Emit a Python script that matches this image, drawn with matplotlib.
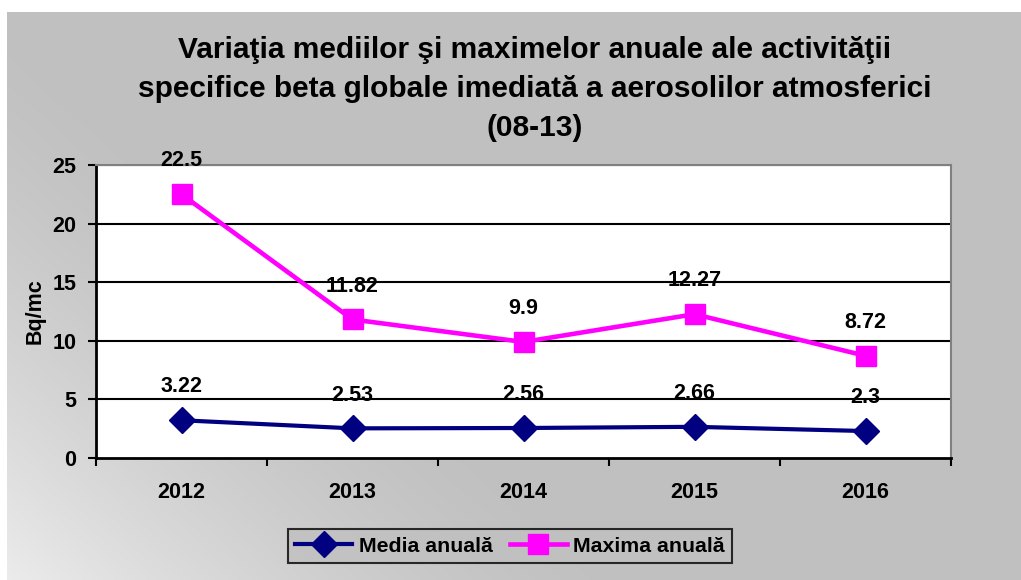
import numpy as np
import matplotlib
matplotlib.use('Agg')
import matplotlib.pyplot as plt

plt.rcParams['font.family'] = ['Liberation Sans', 'DejaVu Sans']

years = ['2012', '2013', '2014', '2015', '2016']
media = [3.22, 2.53, 2.56, 2.66, 2.3]
maxima = [22.5, 11.82, 9.9, 12.27, 8.72]
media_labels = ['3.22', '2.53', '2.56', '2.66', '2.3']
maxima_labels = ['22.5', '11.82', '9.9', '12.27', '8.72']

W, H = 1021, 580
fig = plt.figure(figsize=(W / 100, H / 100), dpi=100)

# fundal cu gradient (stanga-jos mai deschis)
bg = fig.add_axes([7 / W, 0, 1 - 7 / W, 1 - 12 / H])
bg.set_axis_off()
yy, xx = np.mgrid[0:1:200j, 0:1:400j]
d = np.clip(1 - (xx * 1.6 + (1 - yy) * 1.0), 0, 1)  # yy=0 sus
g = 0.753 + 0.17 * d ** 1.5
img = np.dstack([g, g, g])
bg.imshow(img, aspect='auto', extent=[0, 1, 0, 1], origin='upper')

ax = fig.add_axes([96 / W, 1 - 458 / H, (951 - 96) / W, (458 - 165) / H])
ax.set_facecolor('white')
x = np.arange(len(years))

for v in range(5, 26, 5):
    ax.axhline(v, color='black', lw=1.5, zorder=1)

ax.plot(x, media, color='#000080', lw=3, marker='D', markersize=13,
        label='Media anuală', zorder=3)
ax.plot(x, maxima, color='#FF00FF', lw=3.3, marker='s', markersize=14,
        label='Maxima anuală', zorder=3)

for xi, v, t in zip(x, media, media_labels):
    ax.annotate(t, (xi, v), xytext=(0, 24), textcoords='offset points',
                ha='center', va='center', fontsize=15.5, fontweight='bold', zorder=4)
for xi, v, t in zip(x, maxima, maxima_labels):
    ax.annotate(t, (xi, v), xytext=(0, 24), textcoords='offset points',
                ha='center', va='center', fontsize=15.5, fontweight='bold', zorder=4)

ax.set_xlim(-0.5, 4.5)
ax.set_ylim(0, 25)
ax.set_yticks(range(0, 26, 5))
ax.set_xticks(np.arange(-0.5, 5, 1))
ax.set_xticklabels([])
ax.set_xticks(x, minor=True)
ax.set_xticklabels(years, minor=True)
ax.tick_params(axis='x', which='minor', length=0, pad=17)
ax.tick_params(axis='x', which='major', length=6, width=1.5, direction='out')
ax.tick_params(axis='y', length=6, width=1.5, direction='out', pad=8)
for lab in ax.get_yticklabels() + ax.get_xticklabels(minor=True):
    lab.set_fontweight('bold')
    lab.set_fontsize(15.5)

ax.spines['left'].set_linewidth(2)
ax.spines['bottom'].set_linewidth(2)
ax.spines['top'].set_color('#808080')
ax.spines['right'].set_color('#808080')
ax.spines['top'].set_linewidth(1.5)
ax.spines['right'].set_linewidth(1.5)

ax.set_ylabel('Bq/mc', fontsize=15.5, fontweight='bold', labelpad=5)

fig.text(535 / W, 1 - 89 / H,
         'Variaţia mediilor şi maximelor anuale ale activităţii\n'
         'specifice beta globale imediată a aerosolilor atmosferici\n(08-13)',
         ha='center', va='center', fontsize=21.5, fontweight='bold', linespacing=1.48)

leg = fig.legend(loc='center', bbox_to_anchor=(510 / W, 1 - 546 / H), ncol=2,
                 prop={'weight': 'bold', 'size': 15.3}, frameon=True, fancybox=False,
                 handlelength=2.7, columnspacing=0.8, handletextpad=0.3,
                 borderpad=0.35)
leg.get_frame().set_edgecolor('black')
leg.get_frame().set_linewidth(1.5)
leg.get_frame().set_facecolor('#C0C0C0')

fig.savefig('out.png', dpi=100)
